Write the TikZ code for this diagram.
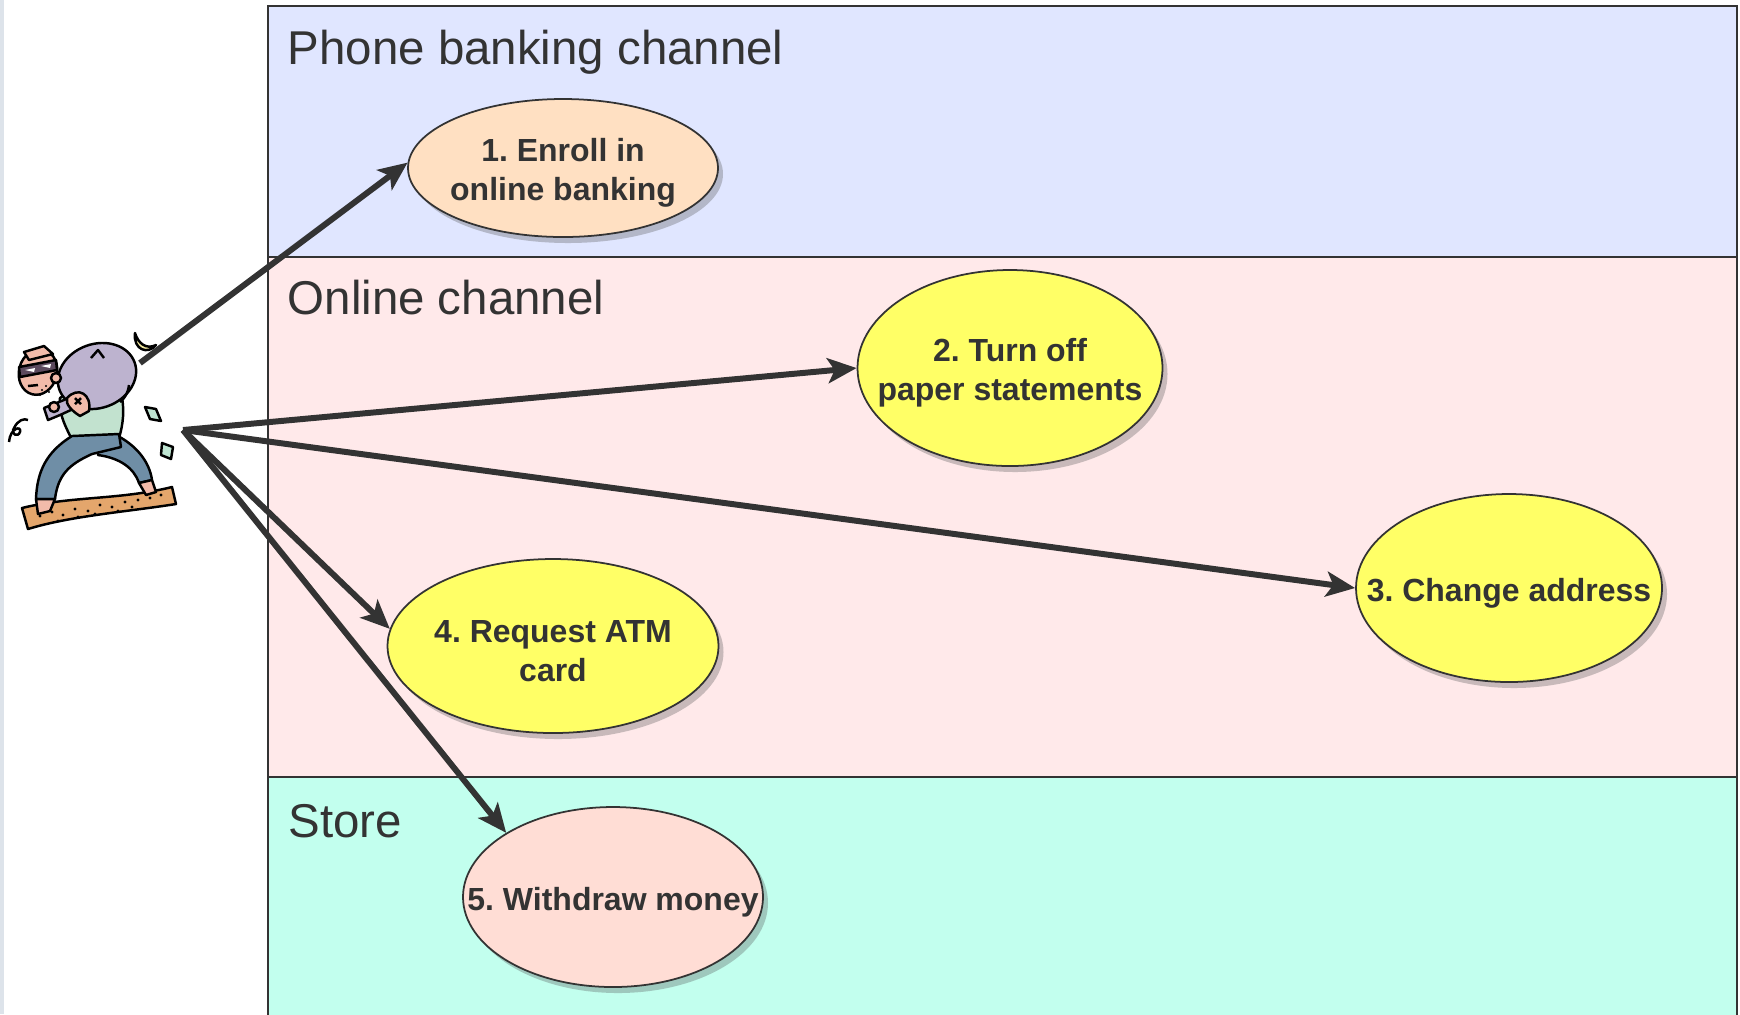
\documentclass[tikz,border=0pt]{standalone}
\usepackage{fontspec}
\setmainfont{Liberation Sans}
\usetikzlibrary{shapes.geometric,shadows,arrows.meta}

\definecolor{ink}{HTML}{333333}
\definecolor{phonelane}{HTML}{E0E6FF}
\definecolor{onlinelane}{HTML}{FFE9EA}
\definecolor{storelane}{HTML}{C2FFEE}
\definecolor{ovalpeach}{HTML}{FFE0C2}
\definecolor{ovalyellow}{HTML}{FFFF66}
\definecolor{ovalpink}{HTML}{FFDDD5}
\definecolor{stripgray}{HTML}{DDE3EA}
\definecolor{sand}{HTML}{E4A66C}
\definecolor{pants}{HTML}{6F8EA6}
\definecolor{shirt}{HTML}{C2E2CF}
\definecolor{sack}{HTML}{BDB3CF}
\definecolor{skin}{HTML}{F2BBAA}
\definecolor{mask}{HTML}{5C4A5E}
\definecolor{moon}{HTML}{F4EAA0}
\definecolor{bill}{HTML}{BFE5D2}

\begin{document}
\frenchspacing
\begin{tikzpicture}[x=0.1mm,y=-0.1mm,
  lane/.style={draw=ink,line width=0.6pt},
  lanetitle/.style={anchor=base west,inner sep=0pt,text=ink,font=\fontsize{13.5}{16}\selectfont},
  oval/.style={ellipse,draw=ink,line width=0.5pt,fill=#1,inner sep=0pt,
    drop shadow={shadow xshift=0.5mm,shadow yshift=-0.6mm,opacity=0.3,fill=black!70}},
  ovaltext/.style={align=center,text=ink,yshift=-0.5mm,font=\fontsize{9.1}{11.2}\selectfont\bfseries},
  hit/.style={draw=ink,line width=1.7pt,-{Stealth[length=2.9mm,width=2.5mm,inset=0.7mm]}},
  outline/.style={draw=black,line width=0.7pt,line join=round}]

\useasboundingbox (0,0) rectangle (1740,1014);
\clip (0,0) rectangle (1740,1014);
\fill[stripgray] (0,0) rectangle (4,1014);

% the three channels
\filldraw[lane,fill=phonelane] (268,6) rectangle (1737,257);
\filldraw[lane,fill=onlinelane] (268,257) rectangle (1737,777);
\filldraw[lane,fill=storelane] (268,777) rectangle (1737,1030);
\node[lanetitle] (phonetitle) at (287,64) {Phone banking channel};
\node[lanetitle] (onlinetitle) at (287,314) {Online channel};
\node[lanetitle] (storetitle) at (288,837) {Store};

% steps
\node[oval=ovalpeach,minimum width=31mm,minimum height=13.8mm,
  label={[ovaltext]center:{1. Enroll in\\online banking}}] (e1) at (563,168) {};
\node[oval=ovalyellow,minimum width=30.5mm,minimum height=19.6mm,
  label={[ovaltext]center:{2. Turn off\\paper statements}}] (e2) at (1010,368) {};
\node[oval=ovalyellow,minimum width=30.6mm,minimum height=18.8mm,
  label={[ovaltext]center:{3. Change address}}] (e3) at (1509,588) {};
\node[oval=ovalyellow,minimum width=33.1mm,minimum height=17.4mm,
  label={[ovaltext]center:{4. Request ATM\\card}}] (e4) at (553,646) {};
\node[oval=ovalpink,minimum width=30mm,minimum height=18mm,
  label={[ovaltext]center:{5. Withdraw money}}] (e5) at (613,897) {};

% the thief
\begin{scope}
\filldraw[outline,fill=sand] (22,508) .. controls (70,496) and (120,500) .. (172,487)
  -- (176,504) .. controls (125,512) and (70,516) .. (28,529) -- cycle;
\foreach \x/\y in {40/516,52/512,63/515,75/509,88/511,100/505,112/507,125/502,
  138/500,150/498,161/495,58/521,95/514,132/507,118/511,78/517}
  \fill (\x,\y) circle (1.6);
\filldraw[outline,fill=pants] (98,440) -- (118,436) .. controls (140,448) and (150,465) .. (152,480)
  -- (139,483) .. controls (134,468) and (120,458) .. (98,455) -- cycle;
\filldraw[outline,fill=skin] (139,483) -- (152,480) -- (156,492) -- (146,495) -- cycle;
\filldraw[outline,fill=shirt] (60,398) .. controls (80,384) and (110,382) .. (121,392)
  .. controls (125,410) and (123,425) .. (119,438) -- (73,441)
  .. controls (64,425) and (58,410) .. (60,398) -- cycle;
\filldraw[outline,fill=pants] (72,436) -- (119,434) -- (121,447) -- (92,454)
  .. controls (70,464) and (58,474) .. (55,499) -- (36,499)
  .. controls (37,472) and (46,452) .. (72,436) -- cycle;
\filldraw[outline,fill=skin] (36,499) -- (55,499) -- (50,511) -- (38,514) -- cycle;
\filldraw[outline,fill=sack,rotate around={20:(97,376)}] (97,376) ellipse [x radius=40,y radius=32];
\draw[outline] (91,358) -- (98,350) -- (104,358);
\draw[outline] (129,385) .. controls (128,393) and (125,398) .. (120,402);
\filldraw[outline,fill=sack] (74,396) -- (44,408) -- (48,420) -- (60,415) -- (84,404) -- cycle;
\filldraw[outline,fill=skin] (67,398) .. controls (78,386) and (92,394) .. (89,411)
  -- (80,416) .. controls (72,411) and (65,404) .. (67,398) -- cycle;
\draw[outline] (75,398) -- (81,404) (81,398) -- (75,404);
\filldraw[outline,fill=skin] (54,407) circle (5);
\filldraw[outline,fill=skin,rotate around={-15:(38,372)}] (38,372) ellipse [x radius=19,y radius=23];
\filldraw[outline,fill=skin] (56,378) circle (5);
\filldraw[outline,fill=mask] (19,367) -- (56,360) -- (57,370) -- (20,377) -- cycle;
\filldraw[outline,fill=skin] (24,352) -- (44,346) -- (53,354) -- (29,360) -- cycle;
\fill[white] (25,370) -- (35,368) -- (34,372) -- cycle (41,366) -- (51,364) -- (50,368) -- cycle;
\draw[outline] (28,386) -- (38,385);
\foreach \x/\y in {42/390,46/386,49/392,40/395} \fill (\x,\y) circle (1.2);
\filldraw[outline,fill=moon] (135,333) .. controls (133,350) and (148,355) .. (156,345)
  .. controls (146,350) and (138,343) .. (135,333) -- cycle;
\filldraw[outline,fill=bill] (145,407) -- (156,409) -- (161,421) -- (150,419) -- cycle;
\filldraw[outline,fill=bill] (162,443) -- (173,447) -- (171,459) -- (161,455) -- cycle;
\draw[outline] (9,442) .. controls (10,428) and (22,425) .. (20,432)
  .. controls (18,438) and (10,434) .. (14,428) .. controls (18,420) and (24,418) .. (28,420);
\coordinate (bagtip) at (140,363);
\coordinate (grab) at (183,430);
\end{scope}

\draw[hit] (bagtip) -- (e1.178);
\draw[hit] (grab) -- (e2.west);
\draw[hit] (grab) -- (e3.west);
\draw[hit] (grab) -- (e4.174);
\draw[hit] (grab) -- (e5.149);

\end{tikzpicture}
\end{document}
